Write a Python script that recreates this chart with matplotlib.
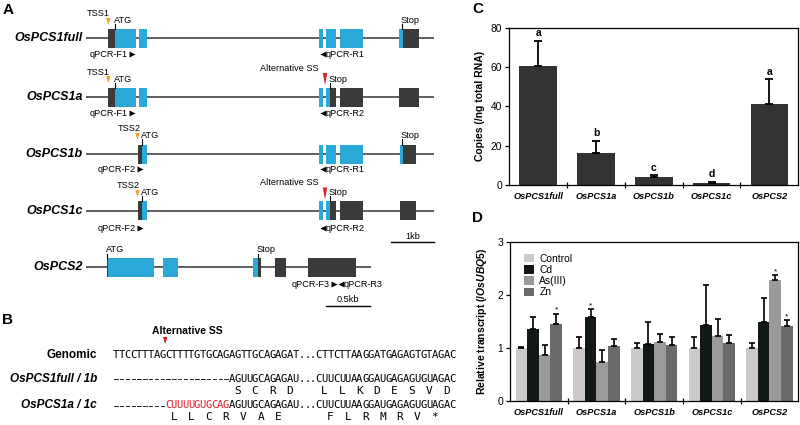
import matplotlib
matplotlib.use('Agg')
import matplotlib.pyplot as plt
from matplotlib.patches import Rectangle, Polygon
import numpy as np

plt.rcParams['font.family'] = ['Liberation Sans', 'DejaVu Sans']
plt.rcParams['mathtext.fontset'] = 'custom'
plt.rcParams['mathtext.it'] = 'Liberation Sans:italic:bold'
plt.rcParams['mathtext.rm'] = 'Liberation Sans:bold'

# ---------------- data ----------------
genes = ['OsPCS1full', 'OsPCS1a', 'OsPCS1b', 'OsPCS1c', 'OsPCS2']
copies = [60.5, 16.1, 3.9, 1.0, 41.2]
copies_err = [12.7, 6.4, 1.0, 0.5, 12.5]
copies_letters = ['a', 'b', 'c', 'd', 'a']

treatments = ['Control', 'Cd', 'As(III)', 'Zn']
rel_control = [1.00, 1.00, 1.00, 1.00, 1.00]
rel_cd = [1.35, 1.59, 1.08, 1.44, 1.50]
rel_as = [0.87, 0.73, 1.11, 1.22, 2.28]
rel_zn = [1.46, 1.03, 1.06, 1.10, 1.41]
err_control = [0.02, 0.21, 0.09, 0.21, 0.10]
err_cd = [0.23, 0.14, 0.41, 0.75, 0.44]
err_as = [0.19, 0.23, 0.16, 0.32, 0.10]
err_zn = [0.19, 0.14, 0.14, 0.15, 0.12]
signif_cd = [False, True, False, False, False]
signif_as = [False, False, False, False, True]
signif_zn = [True, False, False, False, True]

# gene models (diagram x units), kind: 'b' = coding (blue), 'd' = UTR (dark)
model_names = ['OsPCS1full', 'OsPCS1a', 'OsPCS1b', 'OsPCS1c', 'OsPCS2']
model_span = [(86, 434), (86, 434), (86, 434), (86, 434), (86, 370.7)]
model_exons = [
    [(108.3, 115, 'd'), (115, 136, 'b'), (139.3, 146.7, 'b'), (319.3, 323.3, 'b'),
     (326, 335.7, 'b'), (340, 362.7, 'b'), (399.3, 403.3, 'b'), (403.3, 418.7, 'd')],
    [(108.3, 115, 'd'), (115, 136, 'b'), (139.3, 146.7, 'b'), (319.3, 323.3, 'b'),
     (326, 330, 'b'), (330, 335.7, 'd'), (340, 362.7, 'd'), (399.3, 418.7, 'd')],
    [(137.7, 142.3, 'd'), (142.3, 146.7, 'b'), (319.3, 323.3, 'b'),
     (326, 335.7, 'b'), (340, 362.7, 'b'), (400, 403.3, 'b'), (403.3, 416, 'd')],
    [(137.7, 142.3, 'd'), (142.3, 146.7, 'b'), (319.3, 323.3, 'b'),
     (326, 330, 'b'), (330, 336, 'd'), (340, 362.7, 'd'), (400, 416, 'd')],
    [(106.7, 108.3, 'd'), (108.3, 154.3, 'b'), (162.7, 177.7, 'b'), (252.7, 257.7, 'b'),
     (257.7, 260.7, 'd'), (275, 285.7, 'd'), (308.3, 356, 'd')],
]

seq_genomic = 'TTCCTTTAGCTTTTGTGCAGAGTTGCAGAGAT...CTTCTTAAGGATGAGAGTGTAGAC'
seq_full = '--------------------AGUUGCAGAGAU...CUUCUUAAGGAUGAGAGUGUAGAC'
seq_a = '---------CUUUUGUGCAGAGUUGCAGAGAU...CUUCUUAAGGAUGAGAGUGUAGAC'
aa_full = [(21, 'S'), (24, 'C'), (27, 'R'), (30, 'D'), (36, 'L'), (39, 'L'), (42, 'K'),
           (45, 'D'), (48, 'E'), (51, 'S'), (54, 'V'), (57, 'D')]
aa_a = [(10, 'L'), (13, 'L'), (16, 'C'), (19, 'R'), (22, 'V'), (25, 'A'), (28, 'E'),
        (37, 'F'), (40, 'L'), (43, 'R'), (46, 'M'), (49, 'R'), (52, 'V'), (55, '*')]
red_range = (9, 20)

# ---------------- figure ----------------
W, H = 800, 425
fig = plt.figure(figsize=(8, 4.25), dpi=100)
ax0 = fig.add_axes([0, 0, 1, 1])
ax0.set_xlim(0, W)
ax0.set_ylim(H, 0)
ax0.axis('off')

BLUE = '#2aa8d8'
DARK = '#3a3a3a'
ORANGE = '#f0a030'
RED = '#e0202a'
SMALL = 6.6
SEQ_FAMILY = ['Liberation Sans Narrow', 'DejaVu Sans Mono']

def panel_letter(x, y, s):
    ax0.text(x, y, s, fontsize=11, fontweight='bold', ha='left', va='center')

panel_letter(3, 10, 'A')
panel_letter(2, 320, 'B')
panel_letter(472, 9, 'C')
panel_letter(472, 218, 'D')

row_y = [38, 97.3, 154, 210.7, 267.3]
for name, (x0, x1), exons, y in zip(model_names, model_span, model_exons, row_y):
    ax0.plot([x0, x1], [y, y], color='#333333', lw=1.1, solid_capstyle='butt', zorder=1)
    for (a, b, k) in exons:
        ax0.add_patch(Rectangle((a, y - 9.5), b - a, 19, facecolor=BLUE if k == 'b' else DARK,
                                edgecolor='none', zorder=2))
    ax0.text(83, y, name, fontsize=9, fontweight='bold', style='italic', ha='right', va='center')

def tri_down(x, ytop, w, h, color):
    ax0.add_patch(Polygon([(x - w / 2, ytop), (x + w / 2, ytop), (x, ytop + h)], closed=True,
                          facecolor=color, edgecolor='none', zorder=3))

def tick_label(x, y, label, ytxt):
    ax0.plot([x, x], [ytxt + 4, y - 9.5], color='k', lw=0.8, zorder=3)
    ax0.text(x - 1.5, ytxt, label, fontsize=SMALL, ha='left', va='center')

def primer_fwd(xtxt_end, y, label):
    ax0.text(xtxt_end, y, label, fontsize=SMALL, ha='right', va='center')
    ax0.plot([xtxt_end + 4], [y], marker='>', ms=4, color='k', mec='none')

def primer_rev(xstart, y, label):
    ax0.plot([xstart], [y], marker='<', ms=4, color='k', mec='none')
    ax0.text(xstart + 3, y, label, fontsize=SMALL, ha='left', va='center')

# OsPCS1full
y = row_y[0]
ax0.text(87, 13, 'TSS1', fontsize=SMALL, ha='left', va='center')
tri_down(108.3, 18, 4.5, 7, ORANGE)
tick_label(115, y, 'ATG', 20)
tick_label(402, y, 'Stop', 20)
primer_fwd(128, 54, 'qPCR-F1')
primer_rev(323, 54, 'qPCR-R1')

# OsPCS1a
y = row_y[1]
ax0.text(87, 72, 'TSS1', fontsize=SMALL, ha='left', va='center')
tri_down(108.3, 76, 4.5, 7, ORANGE)
tick_label(115, y, 'ATG', 79)
ax0.text(319, 68.5, 'Alternative SS', fontsize=SMALL, ha='right', va='center')
tri_down(325, 73, 4.5, 12, RED)
tick_label(330, y, 'Stop', 79)
primer_fwd(128, 113.3, 'qPCR-F1')
primer_rev(323, 113.3, 'qPCR-R2')

# OsPCS1b
y = row_y[2]
ax0.text(118, 128, 'TSS2', fontsize=SMALL, ha='left', va='center')
tri_down(137.5, 133, 4.5, 7, ORANGE)
tick_label(142.3, y, 'ATG', 135)
tick_label(402, y, 'Stop', 135)
primer_fwd(136, 169.3, 'qPCR-F2')
primer_rev(323, 169.3, 'qPCR-R1')

# OsPCS1c
y = row_y[3]
ax0.text(117, 185, 'TSS2', fontsize=SMALL, ha='left', va='center')
tri_down(137.5, 190, 4.5, 7, ORANGE)
tick_label(142.3, y, 'ATG', 192)
ax0.text(319, 182.5, 'Alternative SS', fontsize=SMALL, ha='right', va='center')
tri_down(325, 187.5, 4.5, 12, RED)
tick_label(330, y, 'Stop', 192)
primer_fwd(136, 228.3, 'qPCR-F2')
primer_rev(323, 228.3, 'qPCR-R2')
ax0.plot([390.7, 434], [241.7, 241.7], color='k', lw=1.0)
ax0.text(412.3, 236, '1kb', fontsize=SMALL, ha='center', va='center')

# OsPCS2
y = row_y[4]
tick_label(107.3, y, 'ATG', 249.5)
tick_label(258.3, y, 'Stop', 249.5)
primer_fwd(330, 284.3, 'qPCR-F3')
primer_rev(341, 284.3, 'qPCR-R3')
ax0.plot([326, 370], [305.7, 305.7], color='k', lw=1.0)
ax0.text(348, 300, '0.5kb', fontsize=SMALL, ha='center', va='center')

# ---------------- panel B ----------------
SX0, CW = 113, 5.8
SEQ_FS = 7.6
ax0.text(187, 330.7, 'Alternative SS', fontsize=7.5, fontweight='bold', ha='center', va='center')
tri_down(SX0 + 9 * CW, 337, 4.5, 7, RED)
yg, yf, yfa, ya, yaa = 355, 379, 390.5, 405.5, 416.8
ax0.text(97, yg, 'Genomic', fontsize=8.5, fontweight='bold', ha='right', va='center')
ax0.text(97, yf, 'OsPCS1full / 1b', fontsize=8.5, fontweight='bold', style='italic', ha='right', va='center')
ax0.text(97, ya, 'OsPCS1a / 1c', fontsize=8.5, fontweight='bold', style='italic', ha='right', va='center')

def draw_seq(seq, yy, red=None):
    for i, ch in enumerate(seq):
        col = RED if (red and red[0] <= i < red[1]) else 'k'
        if ch == '-':
            ax0.plot([SX0 + i * CW + 1.2, SX0 + (i + 1) * CW - 1.2], [yy, yy], color=col, lw=0.6)
        else:
            ax0.text(SX0 + (i + 0.5) * CW, yy, ch, fontsize=SEQ_FS, color=col, ha='center',
                     va='center', family=SEQ_FAMILY)

def draw_aa(aas, yy):
    for idx, ch in aas:
        ax0.text(SX0 + (idx + 0.5) * CW, yy, ch, fontsize=SEQ_FS + 0.4, ha='center', va='center',
                 family=SEQ_FAMILY)

draw_seq(seq_genomic, yg)
draw_seq(seq_full, yf)
draw_aa(aa_full, yfa)
draw_seq(seq_a, ya, red_range)
draw_aa(aa_a, yaa)

# ---------------- panel C ----------------
def px_axes(l, r, t, b):
    return fig.add_axes([l / W, 1 - b / H, (r - l) / W, (b - t) / H])

def style_axes(ax, n):
    for s in ax.spines.values():
        s.set_linewidth(0.9)
    ax.set_xlim(0.5, n + 0.5)
    ax.set_xticks(np.arange(1, n + 1))
    ax.set_xticklabels(genes, fontsize=6.6, fontweight='bold', style='italic')
    ax.tick_params(axis='x', which='major', length=0, pad=5)
    ax.set_xticks(np.arange(1.5, n, 1.0), minor=True)
    ax.tick_params(axis='x', which='minor', length=4, direction='inout', width=0.9)
    ax.tick_params(axis='y', length=3, direction='out', width=0.9, labelsize=7.4, pad=2)

axC = px_axes(509.3, 798.3, 27.7, 185)
x = np.arange(1, len(genes) + 1)
axC.bar(x, copies, width=0.65, color='#333333', zorder=2)
axC.errorbar(x, copies, yerr=[np.zeros(len(copies)), copies_err], fmt='none', ecolor='k',
             elinewidth=1.3, capsize=2.6, capthick=1.3, zorder=3)
for xi, v, e, lab in zip(x, copies, copies_err, copies_letters):
    axC.annotate(lab, (xi, v + e), xytext=(0, 2), textcoords='offset points', ha='center',
                 va='bottom', fontsize=7.5, fontweight='bold')
axC.set_ylim(0, 80)
axC.set_yticks([0, 20, 40, 60, 80])
style_axes(axC, len(genes))
axC.set_ylabel('Copies (/ng total RNA)', fontsize=7.5, fontweight='bold', labelpad=4)

# ---------------- panel D ----------------
axD = px_axes(510, 798.3, 242.3, 400.7)
colors = ['#cacaca', '#121817', '#9a9a9a', '#6a6a6a']
vals = [rel_control, rel_cd, rel_as, rel_zn]
errs = [err_control, err_cd, err_as, err_zn]
sigs = [[False] * 5, signif_cd, signif_as, signif_zn]
bw = 0.202
for k in range(4):
    xs = x + (k - 1.5) * bw
    axD.bar(xs, vals[k], width=bw, color=colors[k], label=treatments[k], zorder=2)
    axD.errorbar(xs, vals[k], yerr=[np.zeros(5), errs[k]], fmt='none', ecolor='k',
                 elinewidth=1.2, capsize=2.3, capthick=1.2, zorder=3)
    for xi, v, e, s in zip(xs, vals[k], errs[k], sigs[k]):
        if s:
            axD.annotate('*', (xi, v + e), xytext=(0, 0), textcoords='offset points',
                         ha='center', va='bottom', fontsize=6)
axD.set_ylim(0, 3)
axD.set_yticks([0, 1, 2, 3])
style_axes(axD, len(genes))
axD.set_ylabel(r'Relative transcript (/$\mathit{OsUBQ5}$)', fontsize=7.5, fontweight='bold', labelpad=6)
leg = axD.legend(loc='upper left', frameon=False, fontsize=7.4, handlelength=1.0, handleheight=0.9,
                 labelspacing=0.12, handletextpad=0.5, borderaxespad=0.4,
                 bbox_to_anchor=(0.02, 0.98))

fig.savefig('out.png', dpi=100)
